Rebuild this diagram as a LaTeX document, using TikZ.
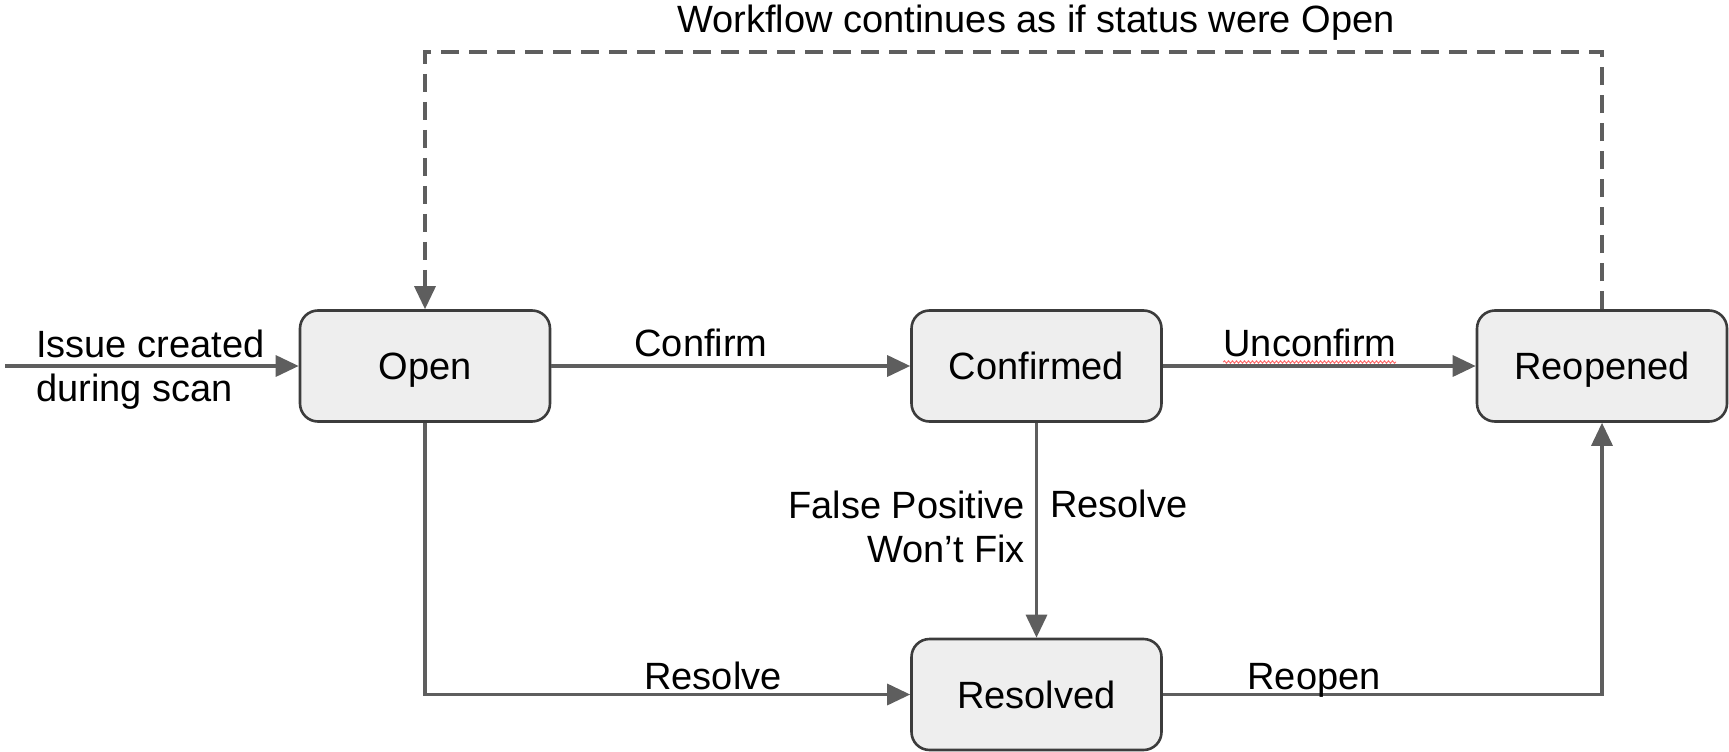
\documentclass[tikz,border=0pt]{standalone}
\usepackage{fontspec}
\setmainfont{Liberation Sans}
\usetikzlibrary{arrows.meta,decorations.pathmorphing}
\definecolor{linegray}{HTML}{5E5E5E}
\definecolor{boxfill}{HTML}{EEEEEE}
\definecolor{boxdraw}{HTML}{3C3C3C}
\tikzset{
  state/.style={draw=boxdraw, line width=2.6pt, fill=boxfill, rounded corners=18pt,
    minimum width=250pt, minimum height=111pt, inner sep=0pt,
    font=\fontsize{38}{44}\selectfont, text height=27pt, text depth=0pt},
  conn/.style={draw=linegray, line width=3.3pt, -{Triangle[length=23pt,width=21pt]}},
  dashconn/.style={conn, dash pattern=on 18pt off 10pt},
  lbl/.style={font=\fontsize{38}{44}\selectfont, inner sep=0pt, text=black}
}
\begin{document}
\begin{tikzpicture}[x=1pt,y=-1pt]
\useasboundingbox (0,0) rectangle (1729,752);
% states
\node[state] (open) at (425,366) {Open};
\node[state] (conf) at (1036.5,366) {Confirmed};
\node[state] (reop) at (1602,366) {Reopened};
\node[state] (res)  at (1036.5,694.5) {Resolved};
% helper coordinates
\coordinate (start) at (5,366);
\coordinate (top) at (1036,52);
% connectors
\draw[conn] (start) -- (open.west);
\draw[conn] (open.east) -- (conf.west);
\draw[conn] (conf.east) -- (reop.west);
\draw[conn] (conf.south) -- (res.north);
\draw[conn] (open.south) |- (res.west);
\draw[conn] (res.east) -| (reop.south);
\draw[dashconn] (reop.north) |- (top) -| (open.north);
% labels
\node[lbl, anchor=base] (title) at (1036,33) {Workflow continues as if status were Open};
\node[lbl, anchor=base west, align=left] (issue) at (36,401) {Issue created\\during scan};
\node[lbl, anchor=base] (lconfirm) at (701,356) {Confirm};
\node[lbl, anchor=base] (lunconfirm) at (1310,356) {Unconfirm};
\draw[red!60, line width=0.9pt, decorate, decoration={snake, amplitude=1.2pt, segment length=4pt}]
  (lunconfirm.base west) ++(0,6) -- ++(173,0);
\node[lbl, anchor=base east, align=right] (lfp) at (1025,562) {False Positive\\Won’t Fix};
\node[lbl, anchor=base west] (lresolve1) at (1050,517) {Resolve};
\node[lbl, anchor=base] (lresolve2) at (713,689) {Resolve};
\node[lbl, anchor=base] (lreopen) at (1314,689) {Reopen};
\end{tikzpicture}
\end{document}
